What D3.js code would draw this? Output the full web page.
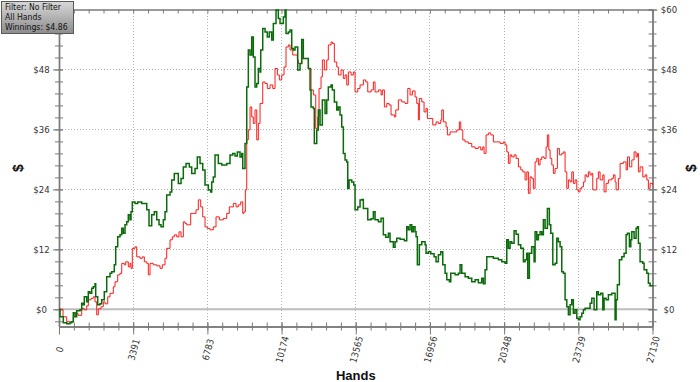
<!DOCTYPE html>
<html><head><meta charset="utf-8">
<script src="https://cdn.jsdelivr.net/npm/d3@7"></script>
<style>body{margin:0;background:#fff}svg{display:block}</style>
</head><body>
<svg id="c" width="700" height="382"></svg>
<script>
// ---- data ----
const greenHands=[0,46,197,352,503,581,654,732,809,960,1038,1097,1157,1266,1340,1417,1495,1568,1646,1678,1769,1875,1952,2071,2181,2332,2409,2528,2592,2684,2789,2867,2940,3018,3095,3168,3246,3292,3351,3475,3598,3781,3932,4010,4115,4238,4357,4467,4572,4663,4769,4846,4924,5075,5153,5271,5454,5578,5683,5806,5957,6067,6218,6323,6447,6570,6675,6826,6936,6981,7054,7132,7283,7439,7667,7818,7942,8047,8152,8275,8353,8399,8458,8504,8582,8655,8733,8810,8883,8961,9039,9112,9190,9222,9313,9418,9523,9615,9725,9798,9921,10026,10104,10255,10333,10378,10484,10561,10639,10712,10790,10913,11019,11096,11169,11325,11398,11476,11521,11627,11672,11782,11855,11933,12038,12162,12239,12312,12436,12495,12587,12697,12770,12847,12925,12998,13076,13153,13199,13259,13382,13474,13533,13657,13762,13840,13913,14022,14114,14265,14370,14448,14599,14722,14781,14827,14937,15056,15133,15284,15362,15440,15591,15787,15897,15970,16048,16125,16198,16276,16322,16381,16473,16583,16734,16779,16884,16994,17145,17236,17342,17451,17543,17648,17726,17845,17909,18105,18256,18334,18412,18563,18714,18869,19020,19170,19326,19399,19477,19555,19705,19856,20085,20240,20391,20469,20542,20620,20697,20803,20894,21000,21109,21228,21306,21383,21429,21502,21612,21717,21763,21840,21914,21991,22069,22142,22220,22325,22416,22480,22572,22677,22755,22828,22906,22983,23056,23134,23212,23285,23363,23440,23513,23591,23669,23742,23820,23898,23971,24049,24199,24277,24355,24460,24583,24656,24766,24858,24917,25009,25114,25269,25375,25420,25466,25525,25617,25727,25832,25923,25983,26074,26138,26184,26289,26380,26440,26486,26563,26687,26746,26869,26942,27020,27130];
const greenWin=[0,-1.5,-2.7,-2.9,-2.7,-2.5,-0.7,-1.5,-0.3,-0.1,1.2,0.9,2.5,1.5,3.5,3.2,4.2,4.5,5.1,2.5,0.9,1.1,1.9,3.5,6.5,7.2,7.5,8.9,12.5,14.5,14.9,16.2,15.2,16.9,17.5,18.9,17.9,19.5,21.5,21.2,21.5,21.2,21.2,19.9,16.7,18.9,19.5,17.9,16.9,16.5,17.9,19.5,22.9,23.5,25.9,27.2,25.2,26.2,28.5,29.2,28.5,27.2,28.2,30.5,29.2,27.9,24.9,23.9,23.5,25.5,26.5,30.9,29.2,28.9,29.2,30.9,31.2,30.7,31.5,30.5,31.2,28.2,28.2,33.2,44.5,51.9,50.9,54.5,50.5,44.5,45.2,48.2,47.5,51.9,56.2,55.5,54.5,55.5,53.9,57.2,59.9,58.2,57.2,58.5,59.9,55.2,55.5,55.9,52.2,51.9,52.5,47.9,49.2,54,50.2,50.2,48.2,43.9,40.5,40.2,33.2,35.9,39.9,36.9,41.9,39.2,41.9,44.5,44.9,43.9,41.5,39.9,40.5,38.9,36.5,31.2,29.9,29.5,24.2,25.9,25.5,24.9,19.9,20.5,21.9,22,20.2,20.2,17.9,18.1,19.5,17.9,17.5,18.2,18.2,14.9,14.4,15.2,13.5,12.4,13.5,14.2,14.0,13.7,16.5,15.9,16.9,15.5,16.5,15.5,14.5,8.9,12.9,13.5,12.9,11.2,11.5,11.1,10.5,9.5,10.9,11.5,8.9,7.2,5.9,5.5,7.2,6.9,7.2,8.9,7.2,6.5,6.2,5.5,5.9,5.3,6.2,5.1,7.9,10.5,10.5,10.2,9.9,9.5,9.2,13.9,12.2,13.5,13.2,15.7,15.0,12.9,12.2,9.5,9.9,11.2,6.2,11.2,12.5,9.5,15.5,13.9,14.9,15.5,14.9,17.9,16.2,20.2,16.9,15.2,8.9,9.2,14.2,13.5,12.5,7.5,7.2,1.9,0.5,-1.1,0.9,1.9,-0.8,-0.1,-1.8,-2.1,-1.5,-0.8,-0.1,0.2,0.2,1.2,2.2,-0.1,3.5,2.9,3.2,-0.1,2.2,1.9,2.9,3.2,3.2,-2.1,1.9,4.9,9.9,10.5,11.2,14.9,15.2,12.5,13.9,15.5,14.2,16.2,16.5,13.2,9.5,9.2,7.9,7.2,5.2,4.7,4.86];
const redHands=[0,183,352,503,654,763,869,1038,1143,1266,1340,1463,1568,1646,1724,1797,1920,2025,2103,2227,2332,2483,2560,2684,2789,2867,2985,3050,3168,3246,3292,3351,3475,3552,3703,3808,3900,4010,4083,4161,4311,4467,4618,4723,4846,4924,5075,5180,5271,5381,5486,5578,5683,5761,5838,6021,6140,6264,6369,6478,6570,6675,6780,6904,7054,7178,7329,7512,7667,7786,7969,8092,8198,8307,8399,8458,8518,8582,8655,8733,8810,8883,8961,9039,9112,9190,9313,9418,9523,9647,9770,9875,9981,10072,10182,10287,10378,10484,10561,10685,10790,10895,10941,11096,11247,11398,11521,11627,11736,11828,11887,11978,12038,12129,12239,12312,12436,12495,12587,12697,12770,12893,12998,13076,13153,13227,13350,13455,13533,13657,13762,13913,14022,14114,14265,14370,14448,14599,14722,14781,14873,14982,15088,15179,15330,15394,15513,15668,15819,15943,16048,16153,16276,16354,16427,16473,16583,16688,16779,16839,16962,17085,17236,17342,17451,17497,17570,17694,17753,17877,18027,18183,18302,18366,18457,18563,18714,18869,19020,19170,19280,19371,19431,19522,19627,19737,19856,20011,20163,20313,20391,20469,20542,20620,20697,20803,20894,21000,21109,21200,21306,21383,21457,21535,21612,21685,21763,21840,21914,21991,22069,22174,22265,22325,22389,22449,22526,22599,22677,22782,22874,22983,23056,23134,23212,23285,23363,23440,23513,23591,23669,23742,23820,23898,23971,24049,24126,24199,24277,24355,24400,24505,24583,24656,24734,24858,24917,25009,25114,25269,25342,25420,25466,25571,25649,25800,25923,25983,26074,26184,26289,26380,26440,26486,26563,26687,26792,26869,26942,27020,27130];
const redWin=[0,-1.5,-2.5,-2.5,-1.5,-0.8,-1.2,0.2,-0.1,0.7,1.9,2.2,2.5,1.5,-1.1,0.1,0.5,1.5,1.1,2.5,3.2,4.5,5.5,6.9,7.2,9.2,8.9,9.5,8.5,9.2,8.2,12.2,12.5,10.5,10.2,10.5,9.5,9.2,6.9,9.2,8.9,8.7,8.2,8.9,10.2,12.2,13.9,14.5,14.9,14.5,15.5,14.5,17.5,17.2,16.9,19.2,19.2,19.9,21.9,20.5,18.5,16.5,16.2,15.9,16.5,18.5,17.9,18.2,19.2,20.5,21.2,20.5,20.9,21.5,19.2,19.5,23.9,33.9,35.9,40.5,38.5,37.2,39.9,33.9,37.2,41.2,45.5,45.2,44.2,44.9,44.2,48.2,46.9,45.9,46.9,48.5,52.5,52.9,51.9,50.9,50.9,49.9,49.2,50.2,50.2,48.2,43.9,42.9,36.2,38.5,44.2,46.5,49.9,47.9,49.9,52.9,53.5,53.2,49.5,48.5,46.9,47.9,46.2,46.9,44.9,47.5,46.9,47.5,43.5,44.2,44.9,45.9,45.5,43.5,43.9,45.5,43.5,43.9,42.9,43.9,40.5,41.2,40.9,38.9,38.5,39.9,41.9,41.5,41.2,44.2,42.9,43.7,42.5,41.2,37.9,42.2,41.5,39.5,40.2,38.2,38.2,36.9,37.5,37.2,37.9,39.9,37.5,36.5,34.9,35.5,35.5,35.9,37.5,35.9,33.9,33.5,33.2,32.5,32.2,32.5,31.9,32.5,31.2,34.9,35.3,34.9,33.5,33.5,33.2,33.5,32.9,31.5,29.2,30.9,30.5,30.9,30.2,28.5,27.9,27.5,25.9,27.5,23.2,26.5,26.2,24.2,29.5,30.2,28.9,30.0,30.5,30.2,32.5,34.9,31.9,30.2,28.9,27.2,28.2,32.2,30.9,31.2,31.5,27.5,24.2,25.9,25.5,27.5,25.2,25.9,23.9,23.5,24.2,24.5,25.5,26.9,26.5,27.5,26.9,27.2,23.9,23.9,26.2,27.5,25.9,26.9,23.5,25.2,25.9,26.2,26.9,25.5,23.9,26.2,29.2,29.5,27.9,30.5,28.5,29.9,31.5,30.5,31.2,27.5,28.5,26.5,26.9,25.9,24.2,25.2,24.9];
const xTickValues=[0,3391,6783,10174,13565,16956,20348,23739,27130];
const xTickLabels=["0","3391","6783","10174","13565","16956","20348","23739","27130"];
const yTickValues=[0,12,24,36,48,60];
const yTickLabels=["$0","$12","$24","$36","$48","$60"];
const legendLines=["Filter: No Filter","All Hands","Winnings: $4.86"];
const xTitle="Hands", yTitle="$";

// ---- layout ----
const L=59, R=652.5, T=9.5, B=326.5;
const FONT='"DejaVu Sans Condensed","DejaVu Sans",sans-serif';
const svg=d3.select("#c");
const x=d3.scaleLinear().domain([0,27130]).range([L,R]);
const y=d3.scaleLinear().domain([-3.44,60]).range([B,T]);
const axisCol="#7a7a7a";

const minorX=d3.range(0,27130+1,27130/40);
const minorY=d3.range(-2.4,60.01,2.4);

// grid
const g=svg.append("g");
g.selectAll(".hg").data(yTickValues.filter(v=>v>0&&v<60)).join("line")
  .attr("x1",L).attr("x2",R).attr("y1",d=>y(d)).attr("y2",d=>y(d))
  .attr("stroke","#b4b4b4").attr("stroke-dasharray","1,2").attr("shape-rendering","crispEdges");
g.selectAll(".vg").data(xTickValues.filter(v=>v>0&&v<27130)).join("line")
  .attr("x1",d=>x(d)).attr("x2",d=>x(d)).attr("y1",T).attr("y2",B)
  .attr("stroke","#b4b4b4").attr("stroke-dasharray","1,2").attr("shape-rendering","crispEdges");
g.append("line").attr("x1",L).attr("x2",R).attr("y1",y(0)).attr("y2",y(0))
  .attr("stroke","#bdbdbd").attr("stroke-width",2);

function styleAxis(sel){
  sel.select(".domain").attr("stroke",axisCol).attr("stroke-width",1.4);
  sel.selectAll(".tick line").attr("stroke",axisCol);
}
const bMin=svg.append("g").attr("transform",`translate(0,${B})`)
  .call(d3.axisBottom(x).tickValues(minorX).tickSize(4).tickSizeOuter(0).tickFormat(""));
bMin.selectAll(".tick line").attr("y1",-4); styleAxis(bMin);
const bMaj=svg.append("g").attr("transform",`translate(0,${B})`)
  .call(d3.axisBottom(x).tickValues(xTickValues).tickSize(8).tickSizeOuter(0).tickFormat((d,i)=>xTickLabels[i]));
bMaj.selectAll(".tick line").attr("y1",-4); styleAxis(bMaj);
bMaj.selectAll(".tick text").attr("y",0).attr("dy",0)
  .attr("transform","translate(0,23) rotate(-75)").attr("text-anchor","middle").attr("dominant-baseline","central")
  .attr("font-family",FONT).attr("font-size",9.5).attr("fill","#333");
const tMin=svg.append("g").attr("transform",`translate(0,${T})`)
  .call(d3.axisBottom(x).tickValues(minorX).tickSize(4).tickSizeOuter(0).tickFormat(""));
styleAxis(tMin);
const lMin=svg.append("g").attr("transform",`translate(${L},0)`)
  .call(d3.axisLeft(y).tickValues(minorY).tickSize(4).tickSizeOuter(0).tickFormat(""));
lMin.selectAll(".tick line").attr("x1",4); styleAxis(lMin);
// left labels: the top one sits under the info box in the reference, so it is not shown
const lMaj=svg.append("g").attr("transform",`translate(${L},0)`)
  .call(d3.axisLeft(y).tickValues(yTickValues).tickSize(6).tickSizeOuter(0)
    .tickFormat((d,i)=>d<60?yTickLabels[i]:""));
lMaj.selectAll(".tick line").attr("x1",4); styleAxis(lMaj);
lMaj.selectAll(".tick text").attr("x",-17.5).attr("text-anchor","middle")
  .attr("font-family",FONT).attr("font-size",9.5).attr("fill","#333");
const rMin=svg.append("g").attr("transform",`translate(${R},0)`)
  .call(d3.axisRight(y).tickValues(minorY).tickSize(4).tickSizeOuter(0).tickFormat(""));
rMin.selectAll(".tick line").attr("x1",-4); styleAxis(rMin);
const rMaj=svg.append("g").attr("transform",`translate(${R},0)`)
  .call(d3.axisRight(y).tickValues(yTickValues).tickSize(5).tickSizeOuter(0).tickFormat((d,i)=>yTickLabels[i]));
rMaj.selectAll(".tick line").attr("x1",-4); styleAxis(rMaj);
rMaj.selectAll(".tick text").attr("x",16.5).attr("text-anchor","middle")
  .attr("font-family",FONT).attr("font-size",9.5).attr("fill","#333");

// lines
const line=d3.line().curve(d3.curveStepAfter).x(d=>x(d[0])).y(d=>y(d[1]));
svg.append("path").datum(redHands.map((h,i)=>[h,redWin[i]])).attr("d",line)
  .attr("fill","none").attr("stroke","#ff1a1a").attr("stroke-width",1);
svg.append("path").datum(greenHands.map((h,i)=>[h,greenWin[i]])).attr("d",line)
  .attr("fill","none").attr("stroke","#0b6b0b").attr("stroke-width",1.5);

// titles
const TF="Liberation Sans, Arial, sans-serif";
svg.append("text").attr("x",(L+R)/2).attr("y",380).attr("text-anchor","middle")
  .attr("font-family",TF).attr("font-weight","bold").attr("font-size",13).attr("fill","#111").text(xTitle);
svg.append("text").attr("transform",`translate(18,${(T+B)/2}) rotate(-90)`).attr("text-anchor","middle").attr("dominant-baseline","central")
  .attr("font-family",TF).attr("font-weight","bold").attr("font-size",14).attr("fill","#111").text(yTitle);
svg.append("text").attr("transform",`translate(691,${(T+B)/2}) rotate(-90)`).attr("text-anchor","middle").attr("dominant-baseline","central")
  .attr("font-family",TF).attr("font-weight","bold").attr("font-size",14).attr("fill","#111").text(yTitle);

// legend box
const defs=svg.append("defs");
const grad=defs.append("linearGradient").attr("id","lg").attr("x1",0).attr("x2",0).attr("y1",0).attr("y2",1);
grad.append("stop").attr("offset","0%").attr("stop-color","#d8d8d8");
grad.append("stop").attr("offset","100%").attr("stop-color","#8c8c8c");
svg.append("rect").attr("x",1.5).attr("y",1.5).attr("width",72).attr("height",32)
  .attr("fill","url(#lg)").attr("stroke","#5a5a5a").attr("stroke-width",1);
svg.append("g").selectAll("text").data(legendLines).join("text")
  .attr("x",5).attr("y",(d,i)=>10+i*10).attr("font-family",FONT).attr("font-size",8.6).attr("fill","#111").text(d=>d);
</script>
</body></html>
